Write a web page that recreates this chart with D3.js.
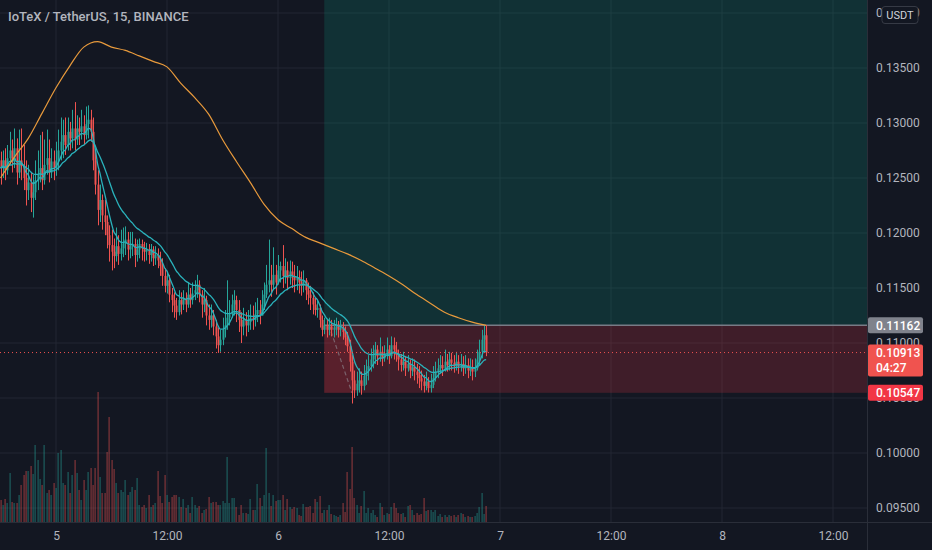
<!DOCTYPE html>
<html>
<head>
<meta charset="utf-8">
<script src="https://cdn.jsdelivr.net/npm/d3@7"></script>
<style>
  html, body { margin: 0; padding: 0; background: #131722; }
  svg { display: block; }
</style>
</head>
<body>
<svg id="chart" width="932" height="550"></svg>
<script>
// IOTX/USDT 15 minute bars. First bar opens day 4, 18:00.
const firstOpen = 0.1266;
const close = [
  0.1259, 0.1266, 0.1257, 0.1268, 0.1275, 0.1265, 0.1277, 0.1255, 0.1266, 0.1261,
  0.1250, 0.1239, 0.1246, 0.1232, 0.1237, 0.1248, 0.1253, 0.1259, 0.1248, 0.1262,
  0.1268, 0.1255, 0.1265, 0.1259, 0.1266, 0.1275, 0.1283, 0.1289, 0.1280, 0.1292,
  0.1286, 0.1295, 0.1285, 0.1295, 0.1292, 0.1297, 0.1289, 0.1299, 0.1303, 0.1292,
  0.1266, 0.1244, 0.1221, 0.1230, 0.1216, 0.1210, 0.1198, 0.1189, 0.1183, 0.1179,
  0.1188, 0.1181, 0.1186, 0.1190, 0.1194, 0.1185, 0.1188, 0.1190, 0.1180, 0.1185,
  0.1190, 0.1186, 0.1183, 0.1185, 0.1180, 0.1185, 0.1177, 0.1180, 0.1175, 0.1170,
  0.1161, 0.1152, 0.1157, 0.1144, 0.1139, 0.1134, 0.1128, 0.1139, 0.1135, 0.1141,
  0.1135, 0.1144, 0.1139, 0.1145, 0.1148, 0.1153, 0.1144, 0.1135, 0.1139, 0.1125,
  0.1121, 0.1125, 0.1115, 0.1106, 0.1098, 0.1103, 0.1112, 0.1116, 0.1123, 0.1126,
  0.1135, 0.1139, 0.1130, 0.1121, 0.1115, 0.1121, 0.1116, 0.1119, 0.1123, 0.1121,
  0.1126, 0.1130, 0.1125, 0.1135, 0.1144, 0.1153, 0.1157, 0.1153, 0.1162, 0.1155,
  0.1166, 0.1170, 0.1161, 0.1166, 0.1159, 0.1165, 0.1161, 0.1157, 0.1160, 0.1155,
  0.1152, 0.1157, 0.1148, 0.1144, 0.1141, 0.1135, 0.1130, 0.1132, 0.1121, 0.1112,
  0.1116, 0.1112, 0.1115, 0.1112, 0.1114, 0.1115, 0.1112, 0.1114, 0.1110, 0.1105,
  0.1097, 0.1083, 0.1066, 0.1057, 0.1063, 0.1066, 0.1061, 0.1070, 0.1075, 0.1079,
  0.1085, 0.1089, 0.1094, 0.1088, 0.1092, 0.1086, 0.1090, 0.1094, 0.1088, 0.1098,
  0.1094, 0.1089, 0.1085, 0.1080, 0.1083, 0.1077, 0.1081, 0.1075, 0.1078, 0.1074,
  0.1071, 0.1068, 0.1065, 0.1061, 0.1065, 0.1059, 0.1062, 0.1068, 0.1074, 0.1077,
  0.1080, 0.1077, 0.1083, 0.1080, 0.1085, 0.1082, 0.1079, 0.1083, 0.1079, 0.1081,
  0.1077, 0.1080, 0.1075, 0.1077, 0.1074, 0.1077, 0.1085, 0.1092, 0.1103, 0.1107,
  0.10913
];
const high = [
  0.1274, 0.1275, 0.1277, 0.1280, 0.1292, 0.1285, 0.1295, 0.1286, 0.1294, 0.1295,
  0.1280, 0.1266, 0.1262, 0.1255, 0.1253, 0.1266, 0.1275, 0.1289, 0.1292, 0.1285,
  0.1294, 0.1285, 0.1277, 0.1275, 0.1283, 0.1294, 0.1305, 0.1303, 0.1305, 0.1305,
  0.1301, 0.1312, 0.1319, 0.1307, 0.1305, 0.1312, 0.1307, 0.1315, 0.1316, 0.1312,
  0.1305, 0.1275, 0.1257, 0.1244, 0.1235, 0.1230, 0.1216, 0.1207, 0.1203, 0.1195,
  0.1205, 0.1198, 0.1203, 0.1205, 0.1206, 0.1201, 0.1201, 0.1201, 0.1195, 0.1194,
  0.1195, 0.1194, 0.1192, 0.1191, 0.1190, 0.1190, 0.1188, 0.1188, 0.1186, 0.1183,
  0.1177, 0.1168, 0.1165, 0.1162, 0.1150, 0.1146, 0.1141, 0.1148, 0.1146, 0.1148,
  0.1146, 0.1155, 0.1150, 0.1155, 0.1157, 0.1162, 0.1157, 0.1148, 0.1150, 0.1143,
  0.1135, 0.1135, 0.1130, 0.1121, 0.1114, 0.1112, 0.1123, 0.1130, 0.1157, 0.1139,
  0.1144, 0.1148, 0.1143, 0.1139, 0.1128, 0.1132, 0.1128, 0.1130, 0.1135, 0.1134,
  0.1137, 0.1141, 0.1139, 0.1148, 0.1155, 0.1171, 0.1194, 0.1171, 0.1187, 0.1171,
  0.1180, 0.1174, 0.1189, 0.1177, 0.1174, 0.1175, 0.1174, 0.1171, 0.1170, 0.1166,
  0.1165, 0.1166, 0.1159, 0.1155, 0.1152, 0.1146, 0.1141, 0.1139, 0.1135, 0.1125,
  0.1123, 0.1121, 0.1123, 0.1121, 0.1121, 0.1123, 0.1120, 0.1121, 0.1119, 0.1115,
  0.1110, 0.1103, 0.1089, 0.1075, 0.1074, 0.1077, 0.1074, 0.1080, 0.1085, 0.1089,
  0.1095, 0.1098, 0.1101, 0.1098, 0.1105, 0.1097, 0.1098, 0.1105, 0.1098, 0.1106,
  0.1105, 0.1101, 0.1094, 0.1090, 0.1092, 0.1088, 0.1089, 0.1085, 0.1086, 0.1085,
  0.1081, 0.1079, 0.1075, 0.1071, 0.1074, 0.1069, 0.1072, 0.1079, 0.1083, 0.1086,
  0.1089, 0.1088, 0.1094, 0.1090, 0.1092, 0.1091, 0.1089, 0.1092, 0.1089, 0.1090,
  0.1088, 0.1089, 0.1086, 0.1086, 0.1085, 0.1086, 0.1094, 0.1103, 0.1112, 0.1116,
  0.11162
];
const low = [
  0.1244, 0.1250, 0.1248, 0.1253, 0.1262, 0.1255, 0.1259, 0.1244, 0.1250, 0.1248,
  0.1239, 0.1225, 0.1230, 0.1219, 0.1214, 0.1230, 0.1239, 0.1246, 0.1239, 0.1244,
  0.1253, 0.1246, 0.1250, 0.1248, 0.1252, 0.1257, 0.1266, 0.1268, 0.1271, 0.1275,
  0.1275, 0.1277, 0.1275, 0.1280, 0.1280, 0.1285, 0.1280, 0.1285, 0.1286, 0.1283,
  0.1257, 0.1235, 0.1207, 0.1210, 0.1203, 0.1198, 0.1186, 0.1174, 0.1166, 0.1168,
  0.1174, 0.1171, 0.1175, 0.1178, 0.1180, 0.1175, 0.1177, 0.1179, 0.1169, 0.1174,
  0.1177, 0.1175, 0.1174, 0.1175, 0.1172, 0.1174, 0.1170, 0.1171, 0.1168, 0.1161,
  0.1152, 0.1146, 0.1145, 0.1137, 0.1128, 0.1123, 0.1121, 0.1125, 0.1126, 0.1130,
  0.1128, 0.1132, 0.1132, 0.1135, 0.1139, 0.1141, 0.1137, 0.1123, 0.1128, 0.1116,
  0.1112, 0.1114, 0.1107, 0.1095, 0.1091, 0.1092, 0.1098, 0.1105, 0.1112, 0.1116,
  0.1123, 0.1125, 0.1119, 0.1110, 0.1100, 0.1107, 0.1106, 0.1110, 0.1112, 0.1112,
  0.1115, 0.1119, 0.1117, 0.1125, 0.1130, 0.1141, 0.1146, 0.1142, 0.1148, 0.1144,
  0.1153, 0.1155, 0.1150, 0.1154, 0.1148, 0.1153, 0.1150, 0.1146, 0.1148, 0.1145,
  0.1143, 0.1146, 0.1139, 0.1135, 0.1130, 0.1126, 0.1125, 0.1123, 0.1114, 0.1106,
  0.1108, 0.1105, 0.1107, 0.1106, 0.1105, 0.1107, 0.1105, 0.1106, 0.1103, 0.1098,
  0.1092, 0.1074, 0.1045, 0.1050, 0.1052, 0.1055, 0.1053, 0.1057, 0.1062, 0.1066,
  0.1074, 0.1077, 0.1081, 0.1080, 0.1083, 0.1079, 0.1083, 0.1085, 0.1081, 0.1086,
  0.1085, 0.1083, 0.1075, 0.1074, 0.1075, 0.1070, 0.1074, 0.1068, 0.1070, 0.1066,
  0.1063, 0.1059, 0.1057, 0.1055, 0.1057, 0.1055, 0.1055, 0.1059, 0.1065, 0.1068,
  0.1072, 0.1070, 0.1074, 0.1074, 0.1075, 0.1075, 0.1073, 0.1075, 0.1072, 0.1074,
  0.1070, 0.1072, 0.1068, 0.1070, 0.1066, 0.1069, 0.1075, 0.1080, 0.1086, 0.1092,
  0.1088
];
// volume per bar (relative units, 130 = the biggest bar)
const volume = [
  22, 17, 23, 19, 49, 20, 19, 19, 27, 37, 47, 51, 51, 56, 48, 77, 62, 43, 37, 77,
  29, 32, 27, 39, 34, 69, 72, 39, 37, 50, 29, 47, 62, 49, 32, 22, 42, 32, 50, 54,
  37, 54, 130, 45, 29, 29, 70, 105, 62, 53, 39, 29, 32, 30, 42, 27, 30, 35, 32, 44,
  17, 15, 17, 14, 27, 15, 17, 19, 51, 26, 19, 47, 27, 20, 25, 27, 27, 25, 15, 23,
  14, 17, 9, 25, 17, 14, 16, 9, 12, 13, 25, 19, 20, 20, 17, 17, 21, 19, 65, 19,
  24, 24, 15, 7, 17, 9, 9, 8, 23, 12, 12, 38, 24, 16, 27, 74, 29, 16, 27, 21,
  22, 22, 27, 12, 23, 15, 13, 15, 14, 7, 6, 18, 15, 15, 16, 9, 23, 20, 26, 9,
  12, 12, 17, 8, 7, 6, 5, 7, 19, 10, 50, 33, 75, 24, 17, 9, 16, 31, 9, 14,
  9, 12, 7, 5, 19, 15, 7, 9, 8, 15, 19, 14, 9, 8, 9, 5, 16, 17, 12, 7,
  9, 7, 8, 24, 11, 12, 12, 10, 12, 6, 8, 5, 7, 5, 7, 6, 7, 5, 7, 9,
  8, 5, 6, 5, 5, 6, 9, 15, 29, 8, 16
];
// long (orange) moving average, one reading every 6 bars
const longMaStep = 6;
const longMa = [
  0.1250, 0.1269, 0.1286, 0.1309, 0.1332, 0.1352, 0.1369, 0.1374, 0.1369, 0.1366,
  0.1361, 0.1356, 0.1351, 0.1336, 0.1323, 0.1308, 0.1285, 0.1265, 0.1246, 0.1226,
  0.1212, 0.1204, 0.1196, 0.1191, 0.1186, 0.1181, 0.1175, 0.1168, 0.1161, 0.1153,
  0.1144, 0.1136, 0.1128, 0.1123, 0.1119, 0.1116
];
const fastPeriod = 7;
const slowPeriod = 20;

const priceTicks = [0.095, 0.100, 0.105, 0.110, 0.115, 0.120, 0.125, 0.130, 0.135, 0.140];
const lastPrice = 0.10913;
const countdown = '04:27';
// long position tool
const entryBar = 140;
const entryPrice = 0.11162;
const stopPrice = 0.10547;
const targetPrice = 0.1450;

const W = 932, H = 550;
const plotW = 867, plotH = 522;
const up = '#26a69a', down = '#ef5350';
const textCol = '#b2b5be';
const font = 'Roboto, "Noto Sans", sans-serif';

const svg = d3.select('#chart');
svg.append('rect').attr('width', W).attr('height', H).attr('fill', '#131722');

const t0 = Date.UTC(2022, 0, 4, 18, 0);
const barMs = 15 * 60 * 1000;
// day 5 00:00 sits at 56px and day 8 00:00 at 722px; widen to the plot edges
const x = d3.scaleUtc()
  .domain([Date.UTC(2022, 0, 5), Date.UTC(2022, 0, 8)])
  .range([56, 722]);
x.domain([x.invert(0), x.invert(plotW)]).range([0, plotW]);

const y = d3.scaleLinear().domain([0.095, 0.135]).range([508, 68]);
const yVol = d3.scaleLinear().domain([0, 140]).range([plotH, plotH - 140]);

const bars = close.map((c, i) => ({
  t: new Date(t0 + i * barMs),
  o: i === 0 ? firstOpen : close[i - 1],
  h: high[i],
  l: low[i],
  c: c,
  v: volume[i]
}));
const barTime = i => new Date(t0 + i * barMs);

svg.append('clipPath').attr('id', 'plot-clip')
  .append('rect').attr('width', plotW).attr('height', plotH);

const plot = svg.append('g').attr('clip-path', 'url(#plot-clip)');

// grid
const timeTicks = x.ticks(d3.utcHour.every(12));
plot.append('g').selectAll('line')
  .data(timeTicks)
  .enter()
  .append('line')
  .attr('x1', d => x(d)).attr('x2', d => x(d))
  .attr('y1', 0).attr('y2', plotH)
  .attr('stroke', '#232733').attr('stroke-width', 1);
plot.append('g').selectAll('line')
  .data(priceTicks)
  .enter()
  .append('line')
  .attr('x1', 0).attr('x2', plotW)
  .attr('y1', d => y(d)).attr('y2', d => y(d))
  .attr('stroke', '#232733').attr('stroke-width', 1);

// position tool
const stopBar = bars.findIndex((b, i) => i >= entryBar && b.l <= stopPrice);
const toolX = x(barTime(entryBar));
plot.append('rect')
  .attr('x', toolX).attr('y', y(targetPrice))
  .attr('width', plotW - toolX).attr('height', y(entryPrice) - y(targetPrice))
  .attr('fill', '#089981').attr('fill-opacity', 0.2);
plot.append('rect')
  .attr('x', toolX).attr('y', y(entryPrice))
  .attr('width', plotW - toolX).attr('height', y(stopPrice) - y(entryPrice))
  .attr('fill', '#f23645').attr('fill-opacity', 0.2);
plot.append('rect')
  .attr('x', toolX).attr('y', y(entryPrice))
  .attr('width', x(barTime(stopBar)) - toolX).attr('height', y(stopPrice) - y(entryPrice))
  .attr('fill', '#f23645').attr('fill-opacity', 0.15);
plot.append('line')
  .attr('x1', toolX).attr('x2', plotW)
  .attr('y1', y(entryPrice)).attr('y2', y(entryPrice))
  .attr('stroke', '#787b86').attr('stroke-width', 1.5);
plot.append('line')
  .attr('x1', x(barTime(entryBar + 2))).attr('y1', y(entryPrice))
  .attr('x2', x(barTime(stopBar))).attr('y2', y(stopPrice))
  .attr('stroke', '#9598a1').attr('stroke-opacity', 0.55)
  .attr('stroke-dasharray', '4,3').attr('stroke-width', 1.2);

// volume
plot.append('g').selectAll('rect')
  .data(bars)
  .enter()
  .append('rect')
  .attr('x', d => Math.round(x(d.t)) - 0.5)
  .attr('y', d => yVol(d.v))
  .attr('width', 1.2)
  .attr('height', d => plotH - yVol(d.v))
  .attr('fill', d => d.c >= d.o ? up : down)
  .attr('fill-opacity', 0.5);

// candles
const candle = plot.append('g').selectAll('g')
  .data(bars)
  .enter()
  .append('g');
candle.append('line')
  .attr('x1', d => Math.round(x(d.t)) + 0.5).attr('x2', d => Math.round(x(d.t)) + 0.5)
  .attr('y1', d => y(d.h)).attr('y2', d => y(d.l))
  .attr('stroke', d => d.c >= d.o ? up : down)
  .attr('stroke-width', 1);
candle.append('rect')
  .attr('x', d => Math.round(x(d.t)) - 0.5)
  .attr('y', d => y(Math.max(d.o, d.c)))
  .attr('width', 2)
  .attr('height', d => Math.max(1, Math.abs(y(d.o) - y(d.c))))
  .attr('fill', d => d.c >= d.o ? up : down);

// moving averages
function ema(values, period) {
  const k = 2 / (period + 1);
  let prev = values[0];
  return values.map((v, i) => {
    if (i > 0) prev = prev + k * (v - prev);
    return prev;
  });
}
const maLine = d3.line()
  .x((d, i) => x(barTime(i)))
  .y(d => y(d))
  .curve(d3.curveMonotoneX);
[fastPeriod, slowPeriod].forEach(p => {
  plot.append('path')
    .attr('d', maLine(ema(close, p)))
    .attr('fill', 'none')
    .attr('stroke', '#2ab2bb')
    .attr('stroke-width', 1.3);
});
plot.append('path')
  .attr('d', d3.line()
    .x((d, k) => x(barTime(k * longMaStep)))
    .y(d => y(d))
    .curve(d3.curveMonotoneX)(longMa))
  .attr('fill', 'none')
  .attr('stroke', '#e89a3c')
  .attr('stroke-width', 1.2);

// last price line
plot.append('line')
  .attr('x1', 0).attr('x2', plotW)
  .attr('y1', y(lastPrice)).attr('y2', y(lastPrice))
  .attr('stroke', down).attr('stroke-width', 1)
  .attr('stroke-dasharray', '1,3');

// axes
const yAxis = svg.append('g')
  .attr('transform', `translate(${plotW},0)`)
  .call(d3.axisRight(y).tickValues(priceTicks).tickSize(0).tickPadding(9).tickFormat(d3.format('.5f')));
yAxis.select('.domain').remove();
yAxis.selectAll('text')
  .attr('fill', textCol).style('font-family', font).style('font-size', '12px');

const xAxis = svg.append('g')
  .attr('transform', `translate(0,${plotH})`)
  .call(d3.axisBottom(x).tickValues(timeTicks).tickSize(0).tickPadding(9)
    .tickFormat(d => d.getUTCHours() === 0 ? String(d.getUTCDate()) : '12:00'));
xAxis.select('.domain').remove();
xAxis.selectAll('text')
  .attr('fill', textCol).style('font-family', font).style('font-size', '12px');

svg.append('line')
  .attr('x1', plotW + 0.5).attr('x2', plotW + 0.5).attr('y1', 0).attr('y2', H)
  .attr('stroke', '#2a2e39');
svg.append('line')
  .attr('x1', 0).attr('x2', W).attr('y1', plotH + 0.5).attr('y2', plotH + 0.5)
  .attr('stroke', '#2a2e39');

// price badges on the scale
function badge(price, fill, lines) {
  const top = y(price) - 8;
  const g = svg.append('g');
  g.append('rect')
    .attr('x', plotW + 1).attr('y', top)
    .attr('width', 55).attr('height', 16 * lines.length)
    .attr('rx', 2)
    .attr('fill', fill);
  lines.forEach((s, k) => {
    g.append('text')
      .attr('x', plotW + 9).attr('y', top + 12.5 + k * 15)
      .attr('fill', '#ffffff')
      .style('font-family', font).style('font-size', '12px').style('font-weight', 500)
      .text(s);
  });
}
badge(entryPrice, '#7f828c', [d3.format('.5f')(entryPrice)]);
badge(lastPrice, '#f0534f', [d3.format('.5f')(lastPrice), countdown]);
badge(stopPrice, '#f23645', [d3.format('.5f')(stopPrice)]);

// currency badge
svg.append('rect')
  .attr('x', 882).attr('y', 6.5).attr('width', 36).attr('height', 17).attr('rx', 3)
  .attr('fill', '#131722').attr('stroke', '#363a45');
svg.append('text')
  .attr('x', 900).attr('y', 19).attr('text-anchor', 'middle')
  .attr('fill', '#d1d4dc')
  .style('font-family', font).style('font-size', '11px')
  .text('USDT');

// title
svg.append('text')
  .attr('x', 8).attr('y', 21)
  .attr('fill', textCol)
  .style('font-family', font).style('font-size', '13px').style('font-weight', 500)
  .text('IoTeX / TetherUS, 15, BINANCE');
</script>
</body>
</html>
